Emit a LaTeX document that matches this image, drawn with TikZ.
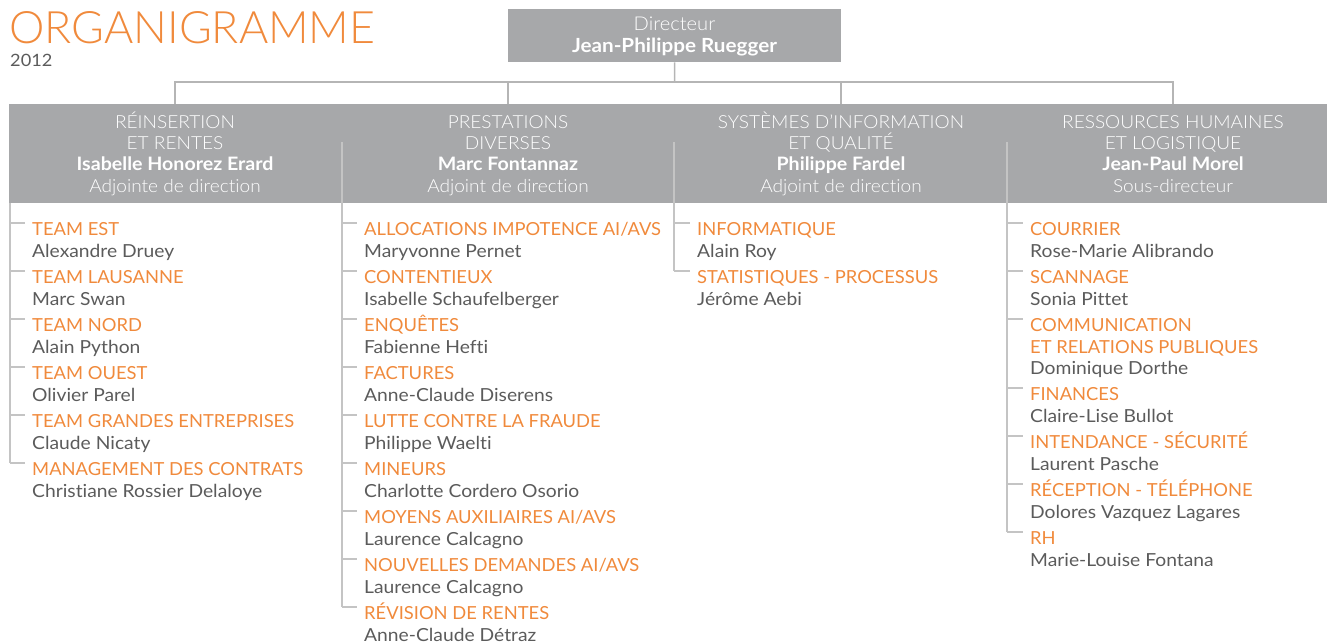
\documentclass[tikz,border=0pt]{standalone}
\usepackage{fontspec}
\setmainfont{Lato}[Ligatures=NoCommon]
\newfontfamily\lightfont{Lato Light}[FakeStretch=1.06,Ligatures=NoCommon]
\newfontfamily\titlefont{Lato Light}
\newfontfamily\labelfont{Lato}[FakeStretch=1.02,Ligatures=NoCommon]
\newfontfamily\namefont{Lato}[FakeStretch=1.07,Ligatures=NoCommon]
\newfontfamily\boldfont{Lato Bold}[FakeStretch=1.06,Ligatures=NoCommon]
\usetikzlibrary{calc}
\definecolor{orng}{HTML}{F08A3C}
\definecolor{bandgray}{HTML}{A7A8AA}
\definecolor{txtgray}{HTML}{5B5B5B}
\definecolor{rulegray}{HTML}{C4C4C4}
\definecolor{conngray}{HTML}{B5B5B5}
\tikzset{
  lbl/.style={anchor=base west, inner sep=0pt, text=orng, font=\labelfont\fontsize{18}{21}\selectfont},
  per/.style={anchor=base west, inner sep=0pt, text=txtgray, font=\namefont\fontsize{18}{21}\selectfont},
  hlight/.style={anchor=base, inner sep=0pt, text=white, font=\lightfont\fontsize{18}{21}\selectfont},
  hbold/.style={anchor=base, inner sep=0pt, text=white, font=\boldfont\fontsize{18.5}{21}\selectfont},
  rulel/.style={draw=rulegray, line width=1.3pt},
  conn/.style={draw=conngray, line width=1.5pt},
  boxgray/.style={fill=bandgray, inner sep=0pt, anchor=north west},
}
\newcommand\entry[6]{%
  \node[lbl] (#1l) at (#3,-#4) {#5};
  \node[per] (#1p) at (#3,-#4-21.5) {#6};
  \coordinate (#1t) at ($(#1l.base west)+(-7,12.5)$);
  \draw[rulel] (#2 |- #1t) -- (#1t);
}
\begin{document}
\begin{tikzpicture}[x=1pt,y=1pt]
\useasboundingbox (0,0) rectangle (1327,-643);
% title
\node[anchor=base west, inner sep=0pt, text=orng, font=\titlefont\fontsize{44.7}{50}\selectfont] (title) at (9,-43.3) {ORGANIGRAMME};
\node[anchor=base west, inner sep=0pt, text=txtgray, font=\namefont\fontsize{17}{19}\selectfont] (year) at (10,-66.7) {2012};
% director
\node[boxgray, minimum width=333pt, minimum height=53pt] (dir) at (508,-9) {};
\node[hlight, font=\lightfont\fontsize{19}{21}\selectfont] (dirt) at (674.5,-30.7) {Directeur};
\node[hbold, font=\boldfont\fontsize{19.5}{21}\selectfont] (dirn) at (674.5,-52.3) {Jean-Philippe Ruegger};
% band
\node[boxgray, minimum width=1318pt, minimum height=99pt] (band) at (9,-104) {};
\coordinate (h1) at (175,-104);
\coordinate (h2) at (508,-104);
\coordinate (h3) at (841,-104);
\coordinate (h4) at (1173,-104);
\coordinate (hub) at (674.5,-82);
\draw[conn] (dir.south) -- (hub);
\draw[conn] (h1) |- (hub) -| (h4);
\draw[conn] (h2) -- (h2 |- hub);
\draw[conn] (h3) -- (h3 |- hub);
% header texts
\node[hlight] (a1) at (175,-128) {RÉINSERTION};
\node[hlight] (a2) at (175,-149.3) {ET RENTES};
\node[hbold]  (a3) at (175,-170.6) {Isabelle Honorez Erard};
\node[hlight] (a4) at (175,-192) {Adjointe de direction};
\node[hlight] (b1) at (508,-128) {PRESTATIONS};
\node[hlight] (b2) at (508,-149.3) {DIVERSES};
\node[hbold]  (b3) at (508,-170.6) {Marc Fontannaz};
\node[hlight] (b4) at (508,-192) {Adjoint de direction};
\node[hlight] (c1) at (841,-128) {SYSTÈMES D’INFORMATION};
\node[hlight] (c2) at (841,-149.3) {ET QUALITÉ};
\node[hbold]  (c3) at (841,-170.6) {Philippe Fardel};
\node[hlight] (c4) at (841,-192) {Adjoint de direction};
\node[hlight] (d1) at (1173,-128) {RESSOURCES HUMAINES};
\node[hlight] (d2) at (1173,-149.3) {ET LOGISTIQUE};
\node[hbold]  (d3) at (1173,-170.6) {Jean-Paul Morel};
\node[hlight] (d4) at (1173,-192) {Sous-directeur};
% trunks
\coordinate (t1) at (10,-203);
\coordinate (t2) at (342,-142);
\coordinate (t3) at (674,-142);
\coordinate (t4) at (1007,-142);
% column 1
\entry{ea}{t1}{32}{235.5}{TEAM EST}{Alexandre Druey}
\entry{eb}{t1}{32}{283.5}{TEAM LAUSANNE}{Marc Swan}
\entry{ec}{t1}{32}{331.5}{TEAM NORD}{Alain Python}
\entry{ed}{t1}{32}{379.5}{TEAM OUEST}{Olivier Parel}
\entry{ee}{t1}{32}{427.5}{TEAM GRANDES ENTREPRISES}{Claude Nicaty}
\entry{ef}{t1}{32}{475.5}{MANAGEMENT DES CONTRATS}{Christiane Rossier Delaloye}
\draw[rulel] (t1) -- (t1 |- eft);
% column 2
\entry{fa}{t2}{364}{235.5}{ALLOCATIONS IMPOTENCE AI/AVS}{Maryvonne Pernet}
\entry{fb}{t2}{364}{283.5}{CONTENTIEUX}{Isabelle Schaufelberger}
\entry{fc}{t2}{364}{331.5}{ENQUÊTES}{Fabienne Hefti}
\entry{fd}{t2}{364}{379.5}{FACTURES}{Anne-Claude Diserens}
\entry{fe}{t2}{364}{427.5}{LUTTE CONTRE LA FRAUDE}{Philippe Waelti}
\entry{ff}{t2}{364}{475.5}{MINEURS}{Charlotte Cordero Osorio}
\entry{fg}{t2}{364}{523.5}{MOYENS AUXILIAIRES AI/AVS}{Laurence Calcagno}
\entry{fh}{t2}{364}{571.5}{NOUVELLES DEMANDES AI/AVS}{Laurence Calcagno}
\entry{fi}{t2}{364}{619.5}{RÉVISION DE RENTES}{Anne-Claude Détraz}
\draw[rulel] (t2) -- (t2 |- fit);
% column 3
\entry{ga}{t3}{697}{235.5}{INFORMATIQUE}{Alain Roy}
\entry{gb}{t3}{697}{283.5}{STATISTIQUES - PROCESSUS}{Jérôme Aebi}
\draw[rulel] (t3) -- (t3 |- gbt);
% column 4
\entry{ka}{t4}{1030}{235.5}{COURRIER}{Rose-Marie Alibrando}
\entry{kb}{t4}{1030}{283.5}{SCANNAGE}{Sonia Pittet}
\node[lbl] (kcl) at (1030,-331.5) {COMMUNICATION};
\node[lbl] (kcl2) at (1030,-353) {ET RELATIONS PUBLIQUES};
\node[per] (kcp) at (1030,-374.5) {Dominique Dorthe};
\coordinate (kct) at ($(kcl.base west)+(-7,12.5)$);
\draw[rulel] (t4 |- kct) -- (kct);
\entry{kd}{t4}{1030}{400.5}{FINANCES}{Claire-Lise Bullot}
\entry{ke}{t4}{1030}{448.5}{INTENDANCE - SÉCURITÉ}{Laurent Pasche}
\entry{kf}{t4}{1030}{496.5}{RÉCEPTION - TÉLÉPHONE}{Dolores Vazquez Lagares}
\entry{kg}{t4}{1030}{544.5}{RH}{Marie-Louise Fontana}
\draw[rulel] (t4) -- (t4 |- kgt);
\end{tikzpicture}
\end{document}
